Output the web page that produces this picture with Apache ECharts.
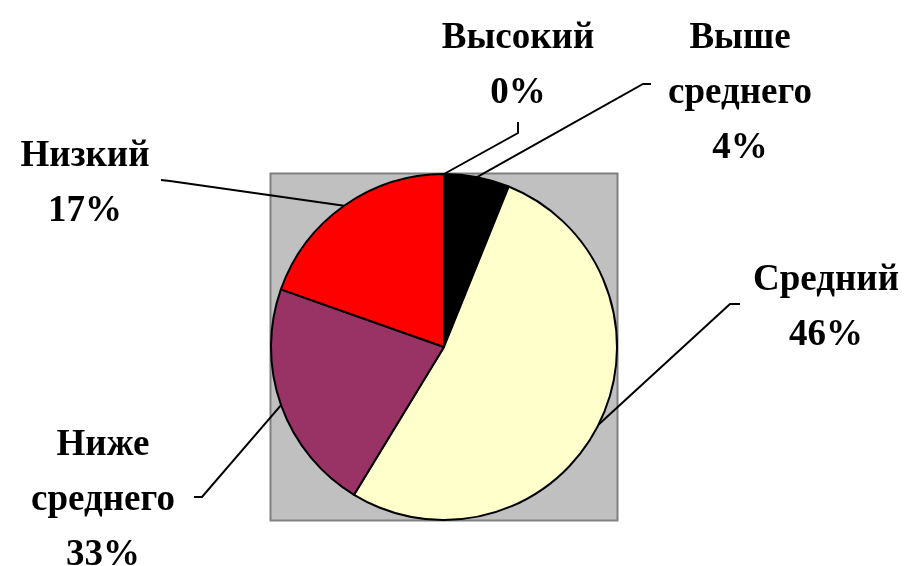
<!DOCTYPE html>
<html>
<head>
<meta charset="utf-8">
<script src="https://cdn.jsdelivr.net/npm/echarts@6/dist/echarts.min.js"></script>
<style>
    html, body { margin: 0; padding: 0; background: #fff; }
    #chart { width: 913px; height: 566px; }
</style>
</head>
<body>
<div id="chart"></div>
<script>
// categories, clockwise from 12 o'clock
const levels = ['Высокий', 'Выше среднего', 'Средний', 'Ниже среднего', 'Низкий']
// slice sizes as drawn (share of the circle, %)
const sliceValues = [0, 6.1, 52.6, 21.7, 19.6]
// percentages printed on the labels
const labelPercents = ['0%', '4%', '46%', '33%', '17%']
const sliceColors = ['#ffffff', '#000000', '#ffffcc', '#993366', '#ff0000']
const labelNames = ['Высокий', 'Выше\nсреднего', 'Средний', 'Ниже\nсреднего', 'Низкий']

// label block centres and leader line bends
const labelSpots = [
    { x: 518, y: 66, line: [[518, 133], [518, 122]] },
    { x: 740, y: 93, line: [[643, 84], [651, 84]] },
    { x: 826, y: 308, line: [[730, 304], [740, 304]] },
    { x: 103, y: 500, line: [[202, 497], [194, 497]] },
    { x: 85, y: 184, line: [[170, 181], [161, 180]] },
]

const cx = 444, cy = 347, r = 173

const chart = echarts.init(document.getElementById('chart'))

const option = {
    animation: false,
    graphic: [
        {
            type: 'rect',
            z: -1,
            shape: { x: cx - r - 0.5, y: cy - r - 0.5, width: 2 * r + 1, height: 2 * r + 1 },
            style: { fill: '#c0c0c0', stroke: '#808080', lineWidth: 2 },
        },
    ],
    series: [
        {
            type: 'pie',
            center: [cx, cy],
            radius: r,
            startAngle: 90,
            clockwise: true,
            avoidLabelOverlap: false,
            stillShowZeroSum: true,
            minShowLabelAngle: -1,
            itemStyle: {
                borderColor: '#000',
                borderWidth: 2,
            },
            label: {
                show: true,
                position: 'outside',
                formatter: (p) => labelNames[p.dataIndex] + '\n' + labelPercents[p.dataIndex],
                fontFamily: '"Liberation Serif", "Times New Roman", serif',
                fontWeight: 'bold',
                fontSize: 37,
                lineHeight: 55,
                color: '#000',
                align: 'center',
            },
            labelLine: {
                show: true,
                length: 20,
                length2: 10,
                lineStyle: { color: '#000', width: 2 },
            },
            labelLayout: (params) => {
                const spot = labelSpots[params.dataIndex]
                const anchor = params.labelLinePoints ? params.labelLinePoints[0] : [cx, cy - r]
                return {
                    x: spot.x,
                    y: spot.y,
                    align: 'center',
                    verticalAlign: 'middle',
                    labelLinePoints: [anchor, spot.line[0], spot.line[1]],
                }
            },
            data: levels.map((name, i) => ({
                name: name,
                value: sliceValues[i],
                itemStyle: { color: sliceColors[i] },
            })),
        },
    ],
}

chart.setOption(option)
</script>
</body>
</html>
